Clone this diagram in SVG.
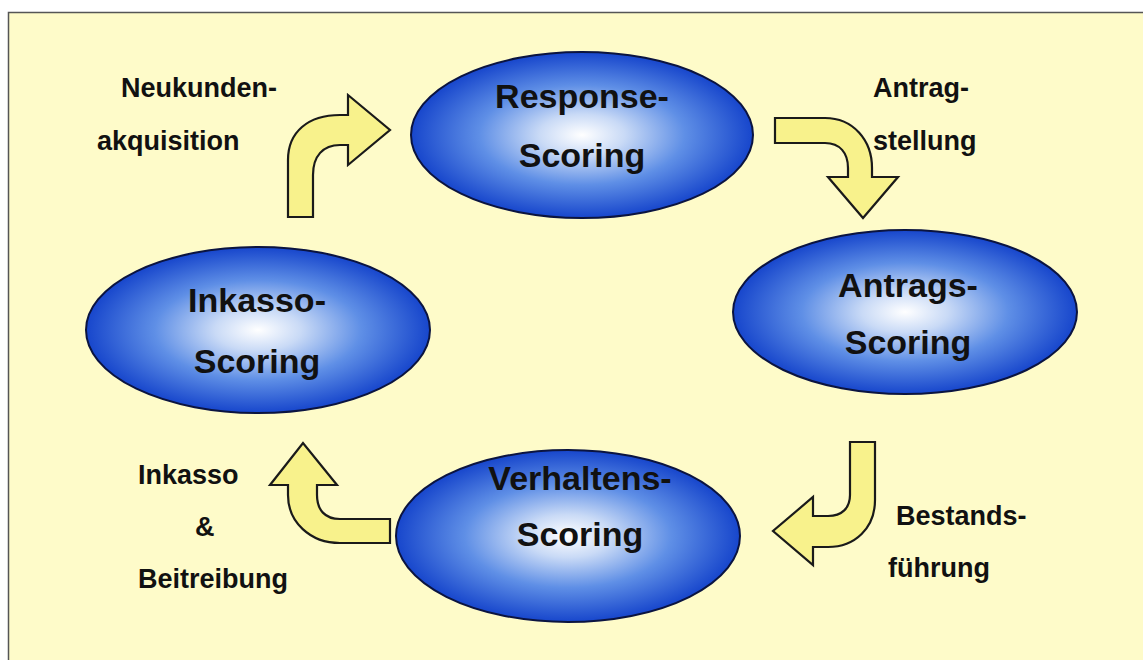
<svg xmlns="http://www.w3.org/2000/svg" width="1143" height="660" viewBox="0 0 1143 660">
<defs>
<radialGradient id="blue" cx="50%" cy="50%" r="50%">
<stop offset="0" stop-color="#ffffff"/>
<stop offset="0.25" stop-color="#c9daf6"/>
<stop offset="0.6" stop-color="#5f8fe6"/>
<stop offset="1" stop-color="#1746cc"/>
</radialGradient>
<style>
.node ellipse{fill:url(#blue);stroke:#0b1440;stroke-width:2}
.node text{font-family:"Liberation Sans",Arial,sans-serif;font-weight:bold;font-size:34px;fill:#111;text-anchor:middle}
.arrow{fill:#f8f28c;stroke:#1a1a1a;stroke-width:2.2;stroke-linejoin:miter}
.lbl{font-family:"Liberation Sans",Arial,sans-serif;font-weight:bold;font-size:27px;fill:#111}
</style>
</defs>
<rect x="0" y="0" width="1143" height="660" fill="#ffffff"/>
<rect x="8.5" y="12.5" width="1200" height="700" fill="#fefbc9" stroke="#555" stroke-width="1.5"/>

<g id="connectors">
<path class="arrow" d="M288 217 V160 C288 132 308 115 340 115 H348 V95 L390 130 L348 165 V145 H340 C323 145 313 156 313 175 V217 Z"/>
<path class="arrow" d="M775 118 H825 C853 118 872 140 872 168 V177 H898 L863 218 L828 177 H848 V168 C848 153 840 143 825 143 H775 Z"/>
<path class="arrow" d="M875 442 V500 C875 528 855 547 828 547 H813 V565 L773 531 L813 497 V516 H828 C842 516 850 508 850 495 V442 Z"/>
<path class="arrow" d="M390 519 V543 H340 C310 543 288 522 288 495 V485 H270 L303 443 L337 485 H317 V495 C317 510 325 519 340 519 Z"/>
</g>

<g id="labels">
<text class="lbl" x="121" y="97">Neukunden-</text>
<text class="lbl" x="97" y="150">akquisition</text>
<text class="lbl" x="873" y="97">Antrag-</text>
<text class="lbl" x="873" y="150">stellung</text>
<text class="lbl" x="896" y="525">Bestands-</text>
<text class="lbl" x="888" y="577">führung</text>
<text class="lbl" x="138" y="484">Inkasso</text>
<text class="lbl" x="195" y="536">&amp;</text>
<text class="lbl" x="138" y="588">Beitreibung</text>
</g>

<g id="response" class="node">
<ellipse cx="582" cy="135" rx="171" ry="83"/>
<text x="582" y="108">Response-</text>
<text x="582" y="167">Scoring</text>
</g>
<g id="antrags" class="node">
<ellipse cx="905" cy="312" rx="172" ry="82"/>
<text x="908" y="297">Antrags-</text>
<text x="908" y="354">Scoring</text>
</g>
<g id="inkasso" class="node">
<ellipse cx="258" cy="330" rx="172" ry="83"/>
<text x="257" y="312">Inkasso-</text>
<text x="257" y="373">Scoring</text>
</g>
<g id="verhaltens" class="node">
<ellipse cx="568" cy="536" rx="172" ry="86"/>
<text x="580" y="490" font-size="33">Verhaltens-</text>
<text x="580" y="546">Scoring</text>
</g>
</svg>
